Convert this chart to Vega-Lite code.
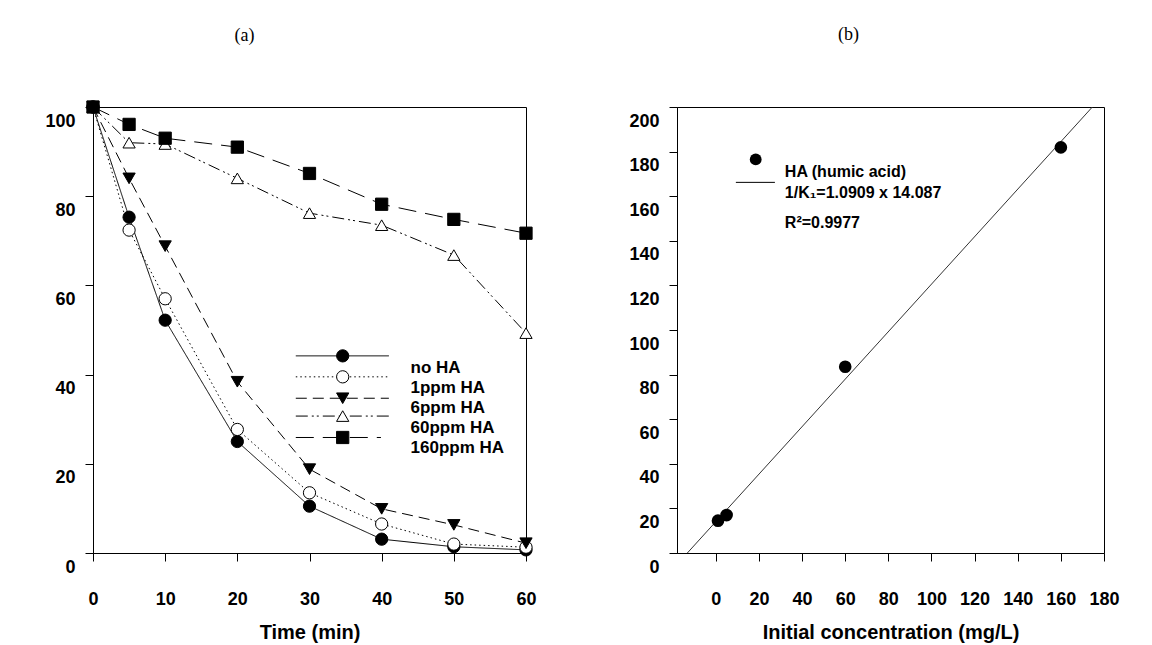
{
  "$schema": "https://vega.github.io/schema/vega-lite/v6.json",
  "background": "white",
  "padding": {"left": 44, "top": 25, "right": 10, "bottom": 0},
  "spacing": 91,
  "datasets": {
    "kinetics": [
      {"series": "no HA", "time": 0, "value": 100},
      {"series": "no HA", "time": 5, "value": 75.3},
      {"series": "no HA", "time": 10, "value": 52.2},
      {"series": "no HA", "time": 20, "value": 25.0},
      {"series": "no HA", "time": 30, "value": 10.5},
      {"series": "no HA", "time": 40, "value": 3.1},
      {"series": "no HA", "time": 50, "value": 1.4},
      {"series": "no HA", "time": 60, "value": 0.7},
      {"series": "1ppm HA", "time": 0, "value": 100},
      {"series": "1ppm HA", "time": 5, "value": 72.4},
      {"series": "1ppm HA", "time": 10, "value": 57.0},
      {"series": "1ppm HA", "time": 20, "value": 27.7},
      {"series": "1ppm HA", "time": 30, "value": 13.5},
      {"series": "1ppm HA", "time": 40, "value": 6.5},
      {"series": "1ppm HA", "time": 50, "value": 2.0},
      {"series": "1ppm HA", "time": 60, "value": 1.3},
      {"series": "6ppm HA", "time": 0, "value": 100},
      {"series": "6ppm HA", "time": 5, "value": 84.0},
      {"series": "6ppm HA", "time": 10, "value": 68.8},
      {"series": "6ppm HA", "time": 20, "value": 38.4},
      {"series": "6ppm HA", "time": 30, "value": 18.8},
      {"series": "6ppm HA", "time": 40, "value": 9.9},
      {"series": "6ppm HA", "time": 50, "value": 6.3},
      {"series": "6ppm HA", "time": 60, "value": 2.2},
      {"series": "60ppm HA", "time": 0, "value": 100},
      {"series": "60ppm HA", "time": 5, "value": 92.0},
      {"series": "60ppm HA", "time": 10, "value": 91.7},
      {"series": "60ppm HA", "time": 20, "value": 84.0},
      {"series": "60ppm HA", "time": 30, "value": 76.2},
      {"series": "60ppm HA", "time": 40, "value": 73.5},
      {"series": "60ppm HA", "time": 50, "value": 66.8},
      {"series": "60ppm HA", "time": 60, "value": 49.3},
      {"series": "160ppm HA", "time": 0, "value": 100},
      {"series": "160ppm HA", "time": 5, "value": 96.1},
      {"series": "160ppm HA", "time": 10, "value": 93.0},
      {"series": "160ppm HA", "time": 20, "value": 91.0},
      {"series": "160ppm HA", "time": 30, "value": 85.1},
      {"series": "160ppm HA", "time": 40, "value": 78.2},
      {"series": "160ppm HA", "time": 50, "value": 74.8},
      {"series": "160ppm HA", "time": 60, "value": 71.7}
    ],
    "kinLegend": [
      {"series": "no HA", "x1": 28.1, "x2": 41.0, "xs": 34.6, "y": 44.2, "tx": 44.0, "ty": 41.5},
      {"series": "1ppm HA", "x1": 28.1, "x2": 41.0, "xs": 34.6, "y": 39.5, "tx": 44.0, "ty": 37.0},
      {"series": "6ppm HA", "x1": 28.1, "x2": 41.0, "xs": 34.6, "y": 34.7, "tx": 44.0, "ty": 32.5},
      {"series": "60ppm HA", "x1": 28.1, "x2": 41.0, "xs": 34.6, "y": 30.7, "tx": 44.0, "ty": 28.0},
      {"series": "160ppm HA", "x1": 28.1, "x2": 39.9, "xs": 34.6, "y": 25.9, "tx": 44.0, "ty": 23.5}
    ],
    "sorption": [
      {"conc": 1, "inv_k": 14.5},
      {"conc": 5, "inv_k": 17.0},
      {"conc": 60, "inv_k": 83.5},
      {"conc": 160, "inv_k": 181.9}
    ],
    "fit": [
      {"conc": -13.2, "inv_k": 0},
      {"conc": 174.6, "inv_k": 200}
    ],
    "fitLegendDot": [{"conc": 18.5, "inv_k": 176.5}],
    "fitLegendLine": [{"c1": 9.3, "c2": 27.4, "inv_k": 166.2}],
    "fitText": [
      {"conc": 32.0, "inv_k": 171.0, "label": "HA (humic acid)"},
      {"conc": 32.0, "inv_k": 161.3, "label": "1/K₁=1.0909 x 14.087"},
      {"conc": 32.0, "inv_k": 147.8, "label": "R²=0.9977"}
    ]
  },
  "hconcat": [
    {
      "width": 433,
      "height": 446,
      "title": {"text": "(a)", "dx": -65, "offset": 54},
      "layer": [
        {
          "data": {"name": "kinetics"},
          "mark": {"type": "line", "color": "black", "strokeWidth": 1},
          "encoding": {
            "x": {"field": "time", "type": "quantitative", "scale": {"domain": [0, 60], "nice": false},
              "axis": {"values": [0, 10, 20, 30, 40, 50, 60], "title": "Time (min)", "labelPadding": 29, "titlePadding": 14, "labelFlush": false}},
            "y": {"field": "value", "type": "quantitative", "scale": {"domain": [0, 100], "nice": false},
              "axis": {"values": [0, 20, 40, 60, 80, 100], "title": null, "labelOffset": 14, "labelPadding": 10}},
            "strokeDash": {"field": "series", "type": "nominal",
              "scale": {"domain": ["no HA", "1ppm HA", "6ppm HA", "60ppm HA", "160ppm HA"],
                "range": [[1, 0], [1.5, 3], [11, 6], [12, 4, 2, 3, 2, 4], [18, 9]]},
              "legend": null}
          }
        },
        {
          "data": {"name": "kinLegend"},
          "mark": {"type": "rule", "color": "black", "strokeWidth": 1},
          "encoding": {
            "x": {"field": "x1", "type": "quantitative"},
            "x2": {"field": "x2"},
            "y": {"field": "y", "type": "quantitative"},
            "strokeDash": {"field": "series", "type": "nominal", "legend": null}
          }
        },
        {
          "data": {"name": "kinetics"},
          "mark": {"type": "point", "stroke": "black", "strokeWidth": 1, "opacity": 1, "size": 150},
          "encoding": {
            "x": {"field": "time", "type": "quantitative"},
            "y": {"field": "value", "type": "quantitative"},
            "shape": {"field": "series", "type": "nominal",
              "scale": {"domain": ["no HA", "1ppm HA", "6ppm HA", "60ppm HA", "160ppm HA"],
                "range": ["circle", "circle", "triangle-down", "triangle-up", "square"]},
              "legend": null},
            "fill": {"field": "series", "type": "nominal",
              "scale": {"domain": ["no HA", "1ppm HA", "6ppm HA", "60ppm HA", "160ppm HA"],
                "range": ["black", "white", "black", "white", "black"]},
              "legend": null}
          }
        },
        {
          "data": {"name": "kinLegend"},
          "mark": {"type": "point", "stroke": "black", "strokeWidth": 1, "opacity": 1, "size": 150},
          "encoding": {
            "x": {"field": "xs", "type": "quantitative"},
            "y": {"field": "y", "type": "quantitative"},
            "shape": {"field": "series", "type": "nominal", "legend": null},
            "fill": {"field": "series", "type": "nominal", "legend": null}
          }
        },
        {
          "data": {"name": "kinLegend"},
          "mark": {"type": "text", "align": "left", "baseline": "middle", "font": "Liberation Sans", "fontWeight": "bold", "fontSize": 17, "color": "black"},
          "encoding": {
            "x": {"field": "tx", "type": "quantitative"},
            "y": {"field": "ty", "type": "quantitative"},
            "text": {"field": "series", "type": "nominal"}
          }
        }
      ]
    },
    {
      "width": 427,
      "height": 446,
      "title": {"text": "(b)", "dx": -42, "offset": 61},
      "layer": [
        {
          "data": {"name": "fit"},
          "mark": {"type": "line", "color": "#333333", "strokeWidth": 1},
          "encoding": {
            "x": {"field": "conc", "type": "quantitative", "scale": {"domain": [-18, 180], "nice": false},
              "axis": {"values": [0, 20, 40, 60, 80, 100, 120, 140, 160, 180], "title": "Initial concentration (mg/L)", "labelPadding": 29, "titlePadding": 14, "labelFlush": false}},
            "y": {"field": "inv_k", "type": "quantitative", "scale": {"domain": [0, 200], "nice": false},
              "axis": {"values": [0, 20, 40, 60, 80, 100, 120, 140, 160, 180, 200], "title": null, "labelOffset": 14, "labelPadding": 10}}
          }
        },
        {
          "data": {"name": "sorption"},
          "mark": {"type": "circle", "color": "black", "opacity": 1, "size": 160},
          "encoding": {
            "x": {"field": "conc", "type": "quantitative"},
            "y": {"field": "inv_k", "type": "quantitative"}
          }
        },
        {
          "data": {"name": "fitLegendDot"},
          "mark": {"type": "circle", "color": "black", "opacity": 1, "size": 140},
          "encoding": {
            "x": {"field": "conc", "type": "quantitative"},
            "y": {"field": "inv_k", "type": "quantitative"}
          }
        },
        {
          "data": {"name": "fitLegendLine"},
          "mark": {"type": "rule", "color": "black", "strokeWidth": 1},
          "encoding": {
            "x": {"field": "c1", "type": "quantitative"},
            "x2": {"field": "c2"},
            "y": {"field": "inv_k", "type": "quantitative"}
          }
        },
        {
          "data": {"name": "fitText"},
          "mark": {"type": "text", "align": "left", "baseline": "middle", "font": "Liberation Sans", "fontWeight": "bold", "fontSize": 16, "color": "black"},
          "encoding": {
            "x": {"field": "conc", "type": "quantitative"},
            "y": {"field": "inv_k", "type": "quantitative"},
            "text": {"field": "label", "type": "nominal"}
          }
        }
      ]
    }
  ],
  "config": {
    "view": {"stroke": "black", "strokeWidth": 1},
    "axis": {
      "grid": false,
      "domainColor": "black",
      "domainWidth": 1,
      "tickColor": "black",
      "tickWidth": 1,
      "tickSize": 8,
      "labelColor": "black",
      "labelFont": "Liberation Sans",
      "labelFontWeight": "bold",
      "labelFontSize": 18,
      "labelOverlap": false,
      "titleColor": "black",
      "titleFont": "Liberation Sans",
      "titleFontWeight": "bold",
      "titleFontSize": 20
    },
    "title": {"font": "Liberation Serif", "fontSize": 18, "fontWeight": "normal", "color": "black"}
  }
}
